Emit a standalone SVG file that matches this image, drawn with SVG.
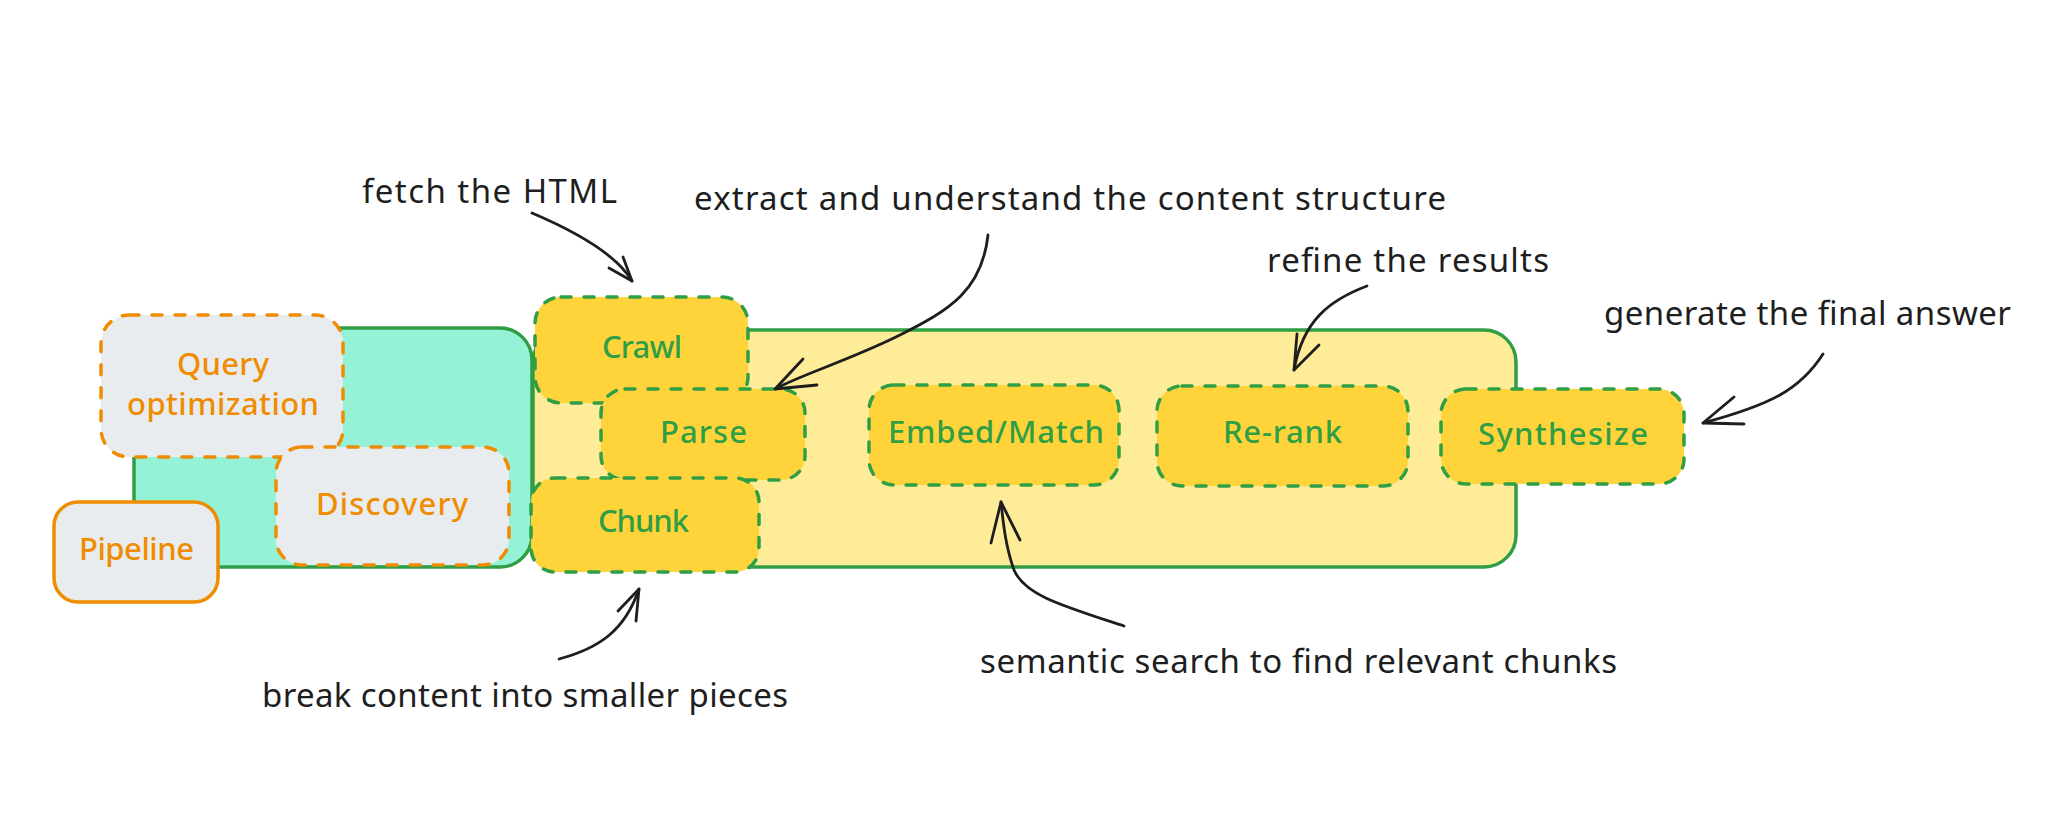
<svg xmlns="http://www.w3.org/2000/svg" width="2048" height="815" viewBox="0 0 2048 815">
<defs>
<style>
.bg{fill:#ffffff}
.cont{stroke:#2f9e44;stroke-width:3.5;stroke-linejoin:round}
.teal{fill:#96f2d7}
.lyel{fill:#ffec99}
.gnode{fill:#ffd43b;stroke:#2f9e44;stroke-width:3.5;stroke-dasharray:10 13;stroke-linecap:round}
.onode{fill:#e9ecef;stroke:#f08c00;stroke-width:3.5;stroke-dasharray:10 13;stroke-linecap:round}
.osolid{fill:#e9ecef;stroke:#f08c00;stroke-width:3.5}
.glab{font-family:"Noto Sans","DejaVu Sans",sans-serif;font-size:31px;font-weight:500;fill:#2f9e44}
.olab{font-family:"Noto Sans","DejaVu Sans",sans-serif;font-size:31px;font-weight:500;fill:#f08c00}
.note{font-family:"Noto Sans","DejaVu Sans",sans-serif;font-size:33px;fill:#1e1e1e}
.arr{fill:none;stroke:#1e1e1e;stroke-width:2.8;stroke-linecap:round;stroke-linejoin:round}
</style>
</defs>
<rect class="bg" x="0" y="0" width="2048" height="815"/>

<g id="discovery-container">
<rect class="cont teal" x="134" y="328" width="398" height="239" rx="32"/>
</g>
<g id="query-optimization">
<rect class="onode" x="101" y="315" width="242" height="142" rx="28"/>
<text class="olab" x="177" y="375" textLength="92">Query</text>
<text class="olab" x="127" y="415" textLength="192">optimization</text>
</g>
<g id="discovery">
<rect class="onode" x="276" y="447" width="233" height="118" rx="26"/>
<text class="olab" x="316" y="515" textLength="152">Discovery</text>
</g>
<g id="pipeline">
<rect class="osolid" x="54" y="502" width="164" height="100" rx="24"/>
<text class="olab" x="79" y="560" textLength="115">Pipeline</text>
</g>

<g id="pipeline-container">
<rect class="cont lyel" x="533" y="330" width="983" height="237" rx="32"/>
</g>
<g id="crawl">
<rect class="gnode" x="535" y="297" width="213" height="106" rx="26"/>
<text class="glab" x="602" y="358" textLength="80">Crawl</text>
</g>
<g id="parse">
<rect class="gnode" x="601" y="389" width="204" height="91" rx="24"/>
<text class="glab" x="660" y="443" textLength="87">Parse</text>
</g>
<g id="chunk">
<rect class="gnode" x="531" y="478" width="228" height="94" rx="24"/>
<text class="glab" x="598" y="532" textLength="91">Chunk</text>
</g>
<g id="embed-match">
<rect class="gnode" x="869" y="385" width="250" height="100" rx="25"/>
<text class="glab" x="888" y="443" textLength="216">Embed/Match</text>
</g>
<g id="re-rank">
<rect class="gnode" x="1157" y="386" width="251" height="100" rx="25"/>
<text class="glab" x="1223" y="443" textLength="119">Re-rank</text>
</g>
<g id="synthesize">
<rect class="gnode" x="1441" y="389" width="243" height="95" rx="25"/>
<text class="glab" x="1478" y="445" textLength="170">Synthesize</text>
</g>

<g id="annotations">
<text class="note" x="362" y="203" textLength="255">fetch the HTML</text>
<text class="note" x="694" y="210" textLength="752">extract and understand the content structure</text>
<text class="note" x="1267" y="272" textLength="282">refine the results</text>
<text class="note" x="1604" y="325" textLength="407">generate the final answer</text>
<text class="note" x="262" y="707" textLength="526">break content into smaller pieces</text>
<text class="note" x="980" y="673" textLength="637">semantic search to find relevant chunks</text>
</g>

<g id="connectors">
<path class="arr" d="M532,213 Q612,247 632,281"/>
<path class="arr" d="M609,268 L632,281 L623,257"/>
<path class="arr" d="M988,235 C982,290 950,310 900,335 C850,360 800,375 775,389"/>
<path class="arr" d="M803,359 L775,389 L817,385"/>
<path class="arr" d="M1367,286 C1330,300 1303,320 1294,370"/>
<path class="arr" d="M1297,334 L1294,370 L1319,345"/>
<path class="arr" d="M1823,354 C1800,390 1770,405 1703,423"/>
<path class="arr" d="M1734,397 L1703,423 L1744,424"/>
<path class="arr" d="M559,659 C600,648 625,630 639,589"/>
<path class="arr" d="M618,611 L639,589 L636,621"/>
<path class="arr" d="M1124,626 C1060,605 1025,595 1014,570 C1005,545 1003,520 1001,502"/>
<path class="arr" d="M991,543 L1001,502 L1020,540"/>
</g>
</svg>
